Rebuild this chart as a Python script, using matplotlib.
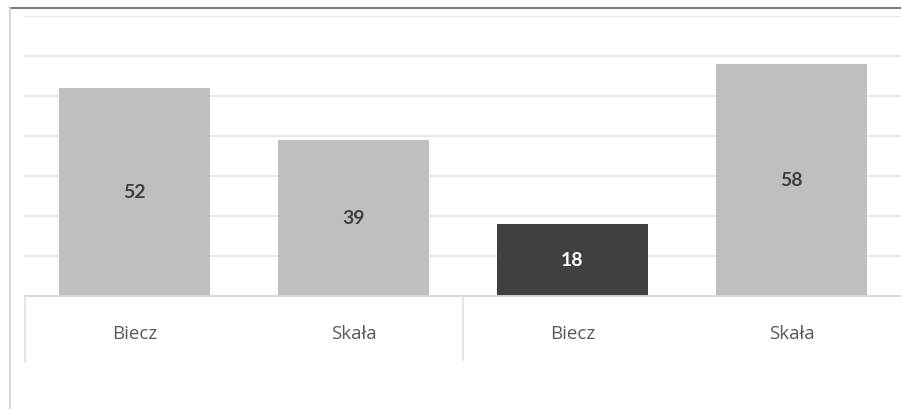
import matplotlib
matplotlib.use("Agg")
import matplotlib.pyplot as plt
from matplotlib.lines import Line2D
import matplotlib.transforms as mtransforms

categories = ["Biecz", "Skała", "Biecz", "Skała"]
values = [52, 39, 18, 58]
highlight = [False, False, True, False]

plt.rcParams['font.family'] = ['Open Sans', 'DejaVu Sans']

W, H = 901, 409
fig = plt.figure(figsize=(W / 100, H / 100), dpi=100)
ax = fig.add_axes([25 / W, (H - 296) / H, 1 - 25 / W, (296 - 16) / H])

x = list(range(len(categories)))
colors = ["#404040" if h else "#bfbfbf" for h in highlight]
bars = ax.bar(x, values, width=0.685, color=colors, zorder=2)

for xi, v, h in zip(x, values, highlight):
    ax.text(xi, v / 2, str(v), ha="center", va="center", fontsize=14,
            fontweight="bold", family=["Lato", "DejaVu Sans"],
            color="white" if h else "#404040", zorder=3)

ax.set_xlim(-0.5, len(categories) - 0.5)
ax.set_ylim(0, 70)
ax.set_yticks(range(0, 71, 10))
ax.yaxis.grid(True, color="#e4e4e4", linewidth=1.3, zorder=0)
ax.set_axisbelow(True)
ax.tick_params(axis="y", left=False, labelleft=False)
ax.tick_params(axis="x", bottom=False, labelbottom=False)
for s in ["top", "right", "left"]:
    ax.spines[s].set_visible(False)
ax.spines["bottom"].set_color("#d9d9d9")
ax.spines["bottom"].set_linewidth(1.3)

trans = mtransforms.blended_transform_factory(ax.transData, fig.transFigure)
for xi, cat in zip(x, categories):
    ax.text(xi, (H - 334) / H, cat, transform=trans, ha="center", va="center",
            fontsize=13.5, color="#595959")

# category group separators
for xs, y_end in [(-0.5, 362), (1.5, 360)]:
    fig.add_artist(Line2D([xs, xs], [(H - 296) / H, (H - y_end) / H],
                          transform=trans, color="#e0e0e0", linewidth=1.2))

# chart frame
fig.add_artist(Line2D([10 / W, 1], [(H - 8) / H, (H - 8) / H],
                      transform=fig.transFigure, color="#7f7f7f", linewidth=1.5))
fig.add_artist(Line2D([10 / W, 10 / W], [(H - 8) / H, 0],
                      transform=fig.transFigure, color="#d0d0d0", linewidth=1.2))

fig.savefig("out.png", dpi=100)
